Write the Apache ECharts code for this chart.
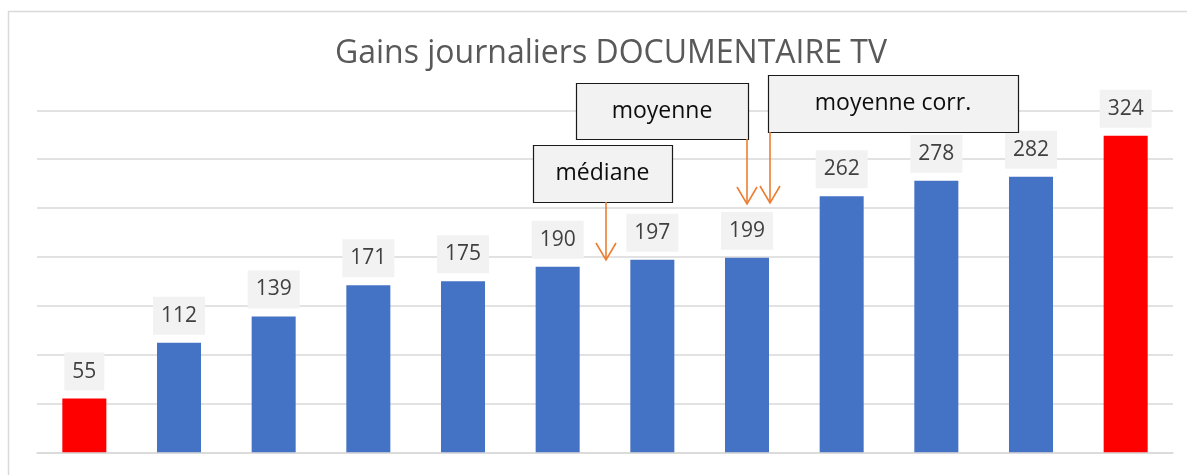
<!DOCTYPE html>
<html>
<head>
<meta charset="utf-8">
<script src="https://cdn.jsdelivr.net/npm/echarts@6/dist/echarts.min.js"></script>
<style>
html,body{margin:0;padding:0;background:#fff;}
#chart{width:1187px;height:475px;}
</style>
</head>
<body>
<div id="chart"></div>
<script>
// ---- data ----
const titleText = 'Gains journaliers DOCUMENTAIRE TV';
const categories = ['1','2','3','4','5','6','7','8','9','10','11','12'];
const values = [55, 112, 139, 171, 175, 190, 197, 199, 262, 278, 282, 324];
const highlighted = [0, 11]; // extreme values drawn in red
const annotationTexts = ['médiane', 'moyenne', 'moyenne corr.'];

// ---- styling ----
const BLUE = '#4472c4', RED = '#ff0000', ORANGE = '#ed7d31';
const FONT = '"Open Sans", "Noto Sans", sans-serif';

const chart = echarts.init(document.getElementById('chart'), null, {renderer: 'canvas'});

const barData = values.map((v, i) => ({
  value: v,
  itemStyle: {color: highlighted.includes(i) ? RED : BLUE}
}));

// annotation layout (pixels): box [x, y, w, h], arrow x, arrow tip y
const annLayout = [
  {box: [533, 145, 139, 57], ax: 606, tip: 260},
  {box: [576, 83, 172, 56], ax: 747, tip: 204},
  {box: [768, 75, 250, 57], ax: 770, tip: 203}
];

const graphics = [
  // outer frame (left & top edges)
  {type: 'line', shape: {x1: 8.5, y1: 11, x2: 8.5, y2: 475}, style: {stroke: '#d9d9d9', lineWidth: 1.5}, z: 100},
  {type: 'line', shape: {x1: 8, y1: 11.5, x2: 1187, y2: 11.5}, style: {stroke: '#d9d9d9', lineWidth: 1.5}, z: 100}
];

annLayout.forEach((a, i) => {
  const [bx, by, bw, bh] = a.box;
  graphics.push({
    type: 'rect', z: 100,
    shape: {x: bx + 0.5, y: by + 0.5, width: bw, height: bh},
    style: {fill: '#f2f2f2', stroke: '#1a1a1a', lineWidth: 1.2}
  });
  graphics.push({
    type: 'text', z: 101,
    x: bx + bw / 2, y: by + bh / 2,
    style: {text: annotationTexts[i], font: '23px ' + FONT, fill: '#0d0d0d', textAlign: 'center', textVerticalAlign: 'middle'}
  });
  graphics.push({
    type: 'line', z: 101,
    shape: {x1: a.ax, y1: by + bh, x2: a.ax, y2: a.tip},
    style: {stroke: ORANGE, lineWidth: 1.6}
  });
  graphics.push({
    type: 'polyline', z: 101,
    shape: {points: [[a.ax - 10, a.tip - 17], [a.ax, a.tip], [a.ax + 10, a.tip - 17]]},
    style: {stroke: ORANGE, lineWidth: 1.6, fill: null}
  });
});

const option = {
  backgroundColor: '#ffffff',
  animation: false,
  title: {
    text: titleText,
    left: 606,
    top: 33,
    textAlign: 'center',
    textStyle: {fontFamily: FONT, fontSize: 32, fontWeight: 'normal', color: '#595959'}
  },
  grid: {left: 37, right: 14, top: 110.3, bottom: 22.7, containLabel: false},
  xAxis: {
    type: 'category',
    data: categories,
    axisLine: {show: true, lineStyle: {color: '#d9d9d9', width: 1.5}},
    axisTick: {show: false},
    axisLabel: {show: false}
  },
  yAxis: {
    type: 'value',
    min: 0, max: 350, interval: 50,
    axisLine: {show: false},
    axisTick: {show: false},
    axisLabel: {show: false},
    splitLine: {show: true, lineStyle: {color: '#d9d9d9', width: 1.5}}
  },
  series: [{
    type: 'bar',
    data: barData,
    barWidth: '46.5%',
    label: {
      show: true,
      position: 'top',
      distance: 8,
      fontFamily: FONT,
      fontSize: 21,
      color: '#404040',
      backgroundColor: '#f2f2f2',
      padding: [7, 8, 7, 8],
      lineHeight: 24
    }
  }],
  graphic: graphics
};

chart.setOption(option);
</script>
</body>
</html>
